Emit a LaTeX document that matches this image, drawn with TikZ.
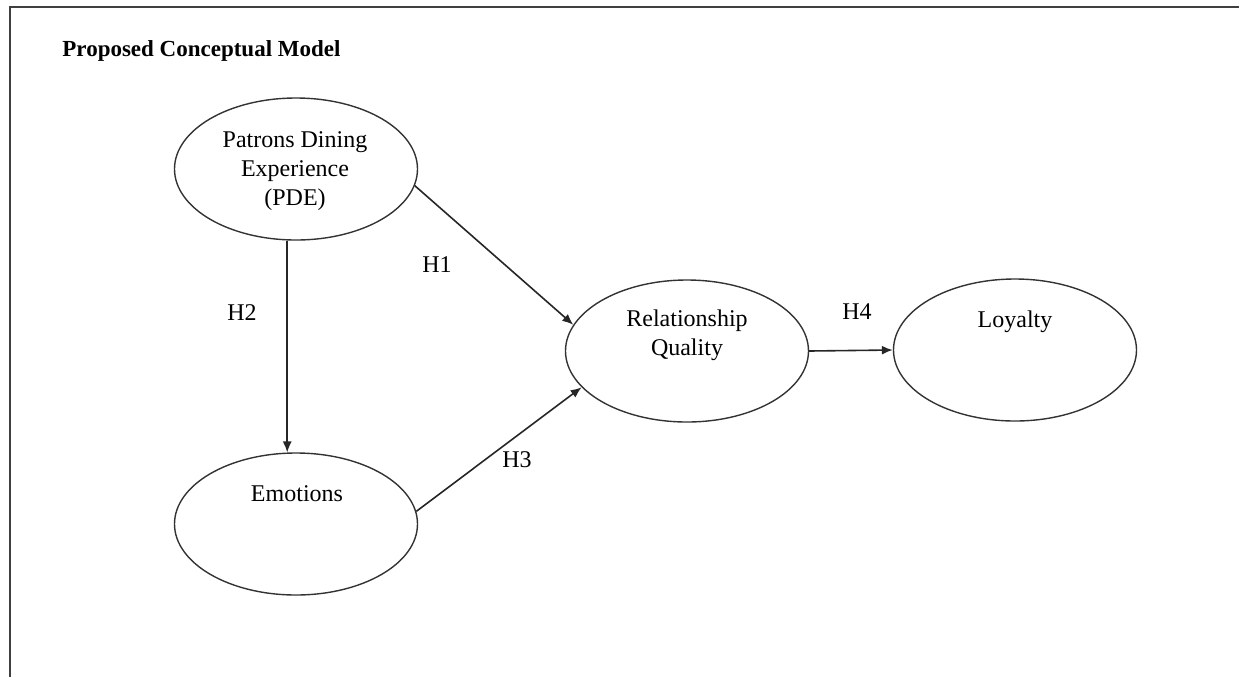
\documentclass[tikz,border=0pt]{standalone}
\usepackage{fontspec}
\setmainfont{Liberation Serif}
\usetikzlibrary{shapes.geometric}
\usetikzlibrary{arrows.meta}
\begin{document}
\begin{tikzpicture}[x=0.5pt,y=-0.5pt,
  construct/.style={draw=black!80,line width=0.7pt,ellipse,minimum width=121.5pt,minimum height=71pt},
  txt/.style={font=\fontsize{12}{14.5}\selectfont,align=center,inner sep=0pt},
  path/.style={draw=black!85,line width=0.8pt,-{Latex[length=5.5pt,width=4.5pt]}}]
\useasboundingbox (0,0) rectangle (1239,677);
\draw[black!75,line width=1.4pt](10,677)--(10,7)--(1239,7);
\node[txt,font=\fontsize{11.5}{14}\selectfont\bfseries,anchor=base west] (title) at (62,56) {Proposed Conceptual Model};
% constructs
\node[construct] (pde) at (296,169) {};
\node[construct] (emo) at (296,524) {};
\node[construct] (rq) at (687,351) {};
\node[construct] (loy) at (1015,350) {};
\node[txt] (pdetxt) at (295,171) {Patrons Dining\\Experience\\(PDE)};
\node[txt] (emotxt) at (297,494) {Emotions};
\node[txt] (rqtxt) at (687,335) {Relationship\\Quality};
\node[txt] (loytxt) at (1015,322) {Loyalty};
% hypotheses
\draw[path](pde.-8)--(rq.167);
\draw[path](pde.-97)--(emo.97);
\draw[path](emo.6)--(rq.199);
\draw[path](rq.east)--(loy.west);
\foreach \h/\x/\y in {H1/437/265,H2/242/313,H3/517/460,H4/857/312}
  \node[txt] (\h) at (\x,\y) {\h};
\end{tikzpicture}
\end{document}
